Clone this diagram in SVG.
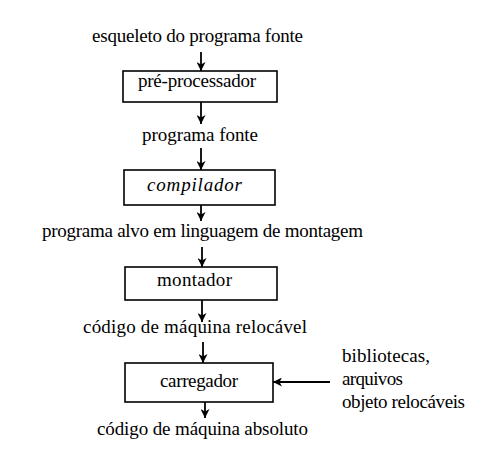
<svg xmlns="http://www.w3.org/2000/svg" width="482" height="449" viewBox="0 0 482 449">
<defs>
<marker id="ah" markerUnits="userSpaceOnUse" markerWidth="10" markerHeight="9" refX="9" refY="4.5" orient="auto">
<path d="M0,0 L9,4.5 L0,9 L2.5,4.5 z" fill="#000"/>
</marker>
<style>
.box{fill:#fff;stroke:#000;stroke-width:1.6}
.conn line{stroke:#000;stroke-width:1.8;marker-end:url(#ah)}
.it{font-style:italic}
.t{font-family:'Liberation Serif','Times New Roman',Times,serif;font-size:19px;fill:#000}
</style>
</defs>
<rect width="482" height="449" fill="#fff"/>
<g id="labels">
<text class="t" x="92" y="42" textLength="211" lengthAdjust="spacing">esqueleto do programa fonte</text>
<text class="t" x="142" y="141" textLength="116" lengthAdjust="spacing">programa fonte</text>
<text class="t" x="42" y="237" textLength="321" lengthAdjust="spacing">programa alvo em linguagem de montagem</text>
<text class="t" x="83" y="333" textLength="224" lengthAdjust="spacing">código de máquina relocável</text>
<text class="t" x="97" y="435" textLength="211" lengthAdjust="spacing">código de máquina absoluto</text>
<text class="t" x="342" y="362" textLength="88" lengthAdjust="spacing">bibliotecas,</text>
<text class="t" x="342" y="385" textLength="61" lengthAdjust="spacing">arquivos</text>
<text class="t" x="342" y="408" textLength="123" lengthAdjust="spacing">objeto relocáveis</text>
</g>
<g id="preprocessador">
<rect class="box" x="123" y="71" width="154" height="31"/>
<text class="t" x="138" y="87" textLength="118" lengthAdjust="spacing">pré-processador</text>
</g>
<g id="compilador">
<rect class="box" x="124" y="170" width="151" height="35"/>
<text class="t it" x="147" y="191" textLength="95" lengthAdjust="spacing">compilador</text>
</g>
<g id="montador">
<rect class="box" x="125" y="267" width="152" height="33"/>
<text class="t" x="157" y="286" textLength="75" lengthAdjust="spacing">montador</text>
</g>
<g id="carregador">
<rect class="box" x="125" y="363" width="148" height="39"/>
<text class="t" x="160" y="387" textLength="78" lengthAdjust="spacing">carregador</text>
</g>
<g id="connectors" class="conn">
<line x1="201" y1="52" x2="201" y2="71"/>
<line x1="201" y1="102" x2="201" y2="124"/>
<line x1="201" y1="148" x2="201" y2="170"/>
<line x1="201" y1="205" x2="201" y2="221"/>
<line x1="202" y1="247" x2="202" y2="267"/>
<line x1="202" y1="300" x2="202" y2="322"/>
<line x1="203" y1="342" x2="203" y2="363"/>
<line x1="205" y1="402" x2="205" y2="418"/>
<line x1="330" y1="382" x2="273" y2="382"/>
</g>
</svg>
